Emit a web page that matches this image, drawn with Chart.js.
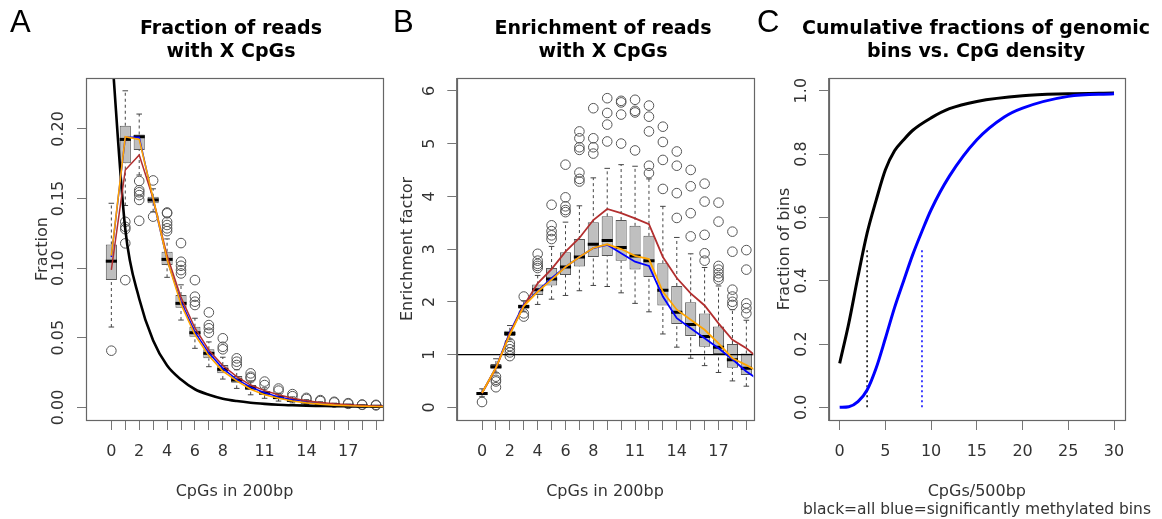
<!DOCTYPE html>
<html><head><meta charset="utf-8">
<script src="https://cdn.jsdelivr.net/npm/chart.js@4.4.1/dist/chart.umd.min.js"></script>
<style>
html,body{margin:0;padding:0;background:#fff}
body{width:1162px;height:519px;position:relative;overflow:hidden}
canvas{position:absolute;top:0}
.ttl{position:absolute;font-family:"DejaVu Sans",sans-serif;font-weight:bold;font-size:19px;line-height:23.4px;text-align:center;white-space:nowrap;transform:translateX(-50%);color:#000}
.lt{position:absolute;font-family:"Liberation Sans",Arial,sans-serif;font-size:31px;line-height:31px;color:#000}
.sub{position:absolute;font-family:"DejaVu Sans",sans-serif;font-size:15.5px;line-height:19.2px;white-space:nowrap;transform:translateX(-50%);color:#333}
</style></head><body>
<canvas id="cA" width="390" height="519" style="left:0"></canvas>
<canvas id="cB" width="380" height="519" style="left:390px"></canvas>
<canvas id="cC" width="392" height="519" style="left:770px"></canvas>
<div class="lt" style="left:10px;top:6px">A</div>
<div class="lt" style="left:393px;top:6px">B</div>
<div class="lt" style="left:757px;top:6px">C</div>
<div class="ttl" style="left:231px;top:16px">Fraction of reads<br>with X CpGs</div>
<div class="ttl" style="left:603px;top:16px">Enrichment of reads<br>with X CpGs</div>
<div class="ttl" style="left:976px;top:16px">Cumulative fractions of genomic<br>bins vs. CpG density</div>
<div class="sub" style="left:977px;top:500px">black=all blue=significantly methylated bins</div>
<script>
// ---------- shared categories ----------
const CATS = [0,1,2,3,4,5,6,7,8,9,10,11,12,13,14,15,16,17,18,19];
const LINE_X = [0,1,2,3,4,5,6,7,8,9,10,11,12,13,14,15,16,17,18,19,20];
const X_SHOWN = [0,2,4,6,8,11,14,17];

// ---------- Panel A: fraction of reads ----------
const A_YTICKS = [0,0.05,0.10,0.15,0.20];
const A_Q1  = [0.0914,0.1753,0.1848,0.1466,0.1022,0.0716,0.0507,0.0352,0.0244,0.0177,0.0125,0.009,0.006,0.0045,0.003,0.0022,0.0016,0.0012,0.0008,0.0006];
const A_MED = [0.105,0.1925,0.1944,0.149,0.1063,0.0747,0.0536,0.0388,0.0273,0.0196,0.0143,0.0103,0.007,0.005,0.0038,0.0027,0.002,0.0015,0.001,0.0008];
const A_Q3  = [0.117,0.2023,0.196,0.1513,0.1118,0.0807,0.0579,0.0417,0.0304,0.0225,0.016,0.0115,0.008,0.006,0.0045,0.0032,0.0024,0.0018,0.0013,0.001];
const A_LO  = [0.0577,0.145,0.1669,0.1405,0.0934,0.0627,0.0424,0.0292,0.0203,0.0136,0.009,0.0065,0.0045,0.0032,0.002,0.0015,0.001,0.0007,0.0005,0.0003];
const A_HI  = [0.1466,0.2274,0.2107,0.157,0.121,0.088,0.064,0.047,0.036,0.027,0.019,0.014,0.010,0.0075,0.0055,0.004,0.003,0.0022,0.0016,0.0013];
const A_OUT = [
 [0.0407],[0.1333,0.1297,0.128,0.1178,0.0914],[0.1626,0.156,0.1545,0.1525,0.149,0.134],[0.163,0.137],
 [0.140,0.1394,0.1333,0.131,0.1286,0.1266],[0.118,0.1046,0.1017,0.0986,0.0962],[0.0914,0.0795,0.0759,0.0735],
 [0.0682,0.0591,0.0568,0.0536],[0.0496,0.0435,0.0417],[0.0352,0.0328,0.0304],[0.0244,0.022,0.021],
 [0.0185,0.016],[0.0135,0.012],[0.0095,0.008],[0.0068,0.006],[0.0052,0.0045],[0.004,0.0035],
 [0.003,0.0025],[0.002,0.0018],[0.0018,0.0014]];
const A_BLUE   = [0.108,0.194,0.194,0.149,0.106,0.076,0.054,0.039,0.028,0.020,0.0145,0.0105,0.0075,0.0055,0.004,0.0028,0.002,0.0014,0.001,0.0007,0.0005];
const A_ORANGE = [0.109,0.1944,0.1925,0.150,0.106,0.074,0.052,0.037,0.026,0.019,0.013,0.009,0.0065,0.0045,0.0032,0.0023,0.0016,0.0011,0.0008,0.0006,0.0004];
const A_RED    = [0.0987,0.1705,0.1813,0.150,0.109,0.079,0.057,0.041,0.030,0.022,0.016,0.012,0.009,0.0065,0.0048,0.0035,0.0025,0.0018,0.0013,0.0009,0.0006];
const A_BLACK  = [0.26,0.128,0.078,0.048,0.030,0.020,0.013,0.009,0.0062,0.0045,0.0033,0.0025,0.0019,0.0015,0.0012,0.001,0.0008,0.0007,0.0006,0.0005,0.0004];

// ---------- Panel B: enrichment ----------
const B_YTICKS = [0,1,2,3,4,5,6];
const B_REF = 1;
const B_Q1  = [0.23,0.73,1.35,1.87,2.13,2.31,2.51,2.67,2.85,2.87,2.78,2.61,2.47,1.93,1.58,1.35,1.15,1.01,0.75,0.61];
const B_MED = [0.26,0.77,1.40,1.91,2.23,2.43,2.66,2.85,3.09,3.16,3.03,2.87,2.78,2.22,1.80,1.57,1.34,1.14,0.90,0.74];
const B_Q3  = [0.29,0.82,1.45,1.95,2.33,2.64,2.94,3.19,3.51,3.62,3.55,3.44,3.25,2.73,2.30,1.99,1.78,1.53,1.20,1.02];
const B_LO  = [0.20,0.65,1.28,1.82,1.95,2.05,2.12,2.21,2.31,2.29,2.17,1.97,1.81,1.39,1.14,0.93,0.79,0.66,0.50,0.40];
const B_HI  = [0.35,0.92,1.55,2.02,2.50,3.05,3.51,3.82,4.35,4.53,4.60,4.57,4.33,3.81,3.22,2.91,2.65,2.30,1.85,1.65];
const B_OUT = [
 [0.10],[0.58,0.52,0.49,0.38],[1.22,1.16,1.10,1.04,0.97],[2.10,1.78,1.72],
 [2.91,2.78,2.72,2.68,2.64],[3.84,3.45,3.34,3.26,3.19],[4.60,3.98,3.81,3.74,3.70],
 [5.23,5.10,4.93,4.88,4.45,4.33,4.28],[5.67,5.10,4.93,4.81],[5.86,5.58,5.36,5.04],
 [5.81,5.78,5.55,5.00],[5.83,5.62,5.59,4.87],[5.72,5.51,5.23,4.58,4.44],[5.32,5.03,4.69,4.14],
 [4.85,4.58,4.06,3.59],[4.50,4.19,3.68,3.24],[4.24,3.90,3.27,2.92,2.78],
 [3.88,3.52,2.68,2.61,2.54,2.47,2.42],[3.33,2.95,2.23,2.10,2.00,1.94],[2.98,2.61,1.97,1.88,1.78]];
const B_RED    = [0.27,0.74,1.40,1.92,2.35,2.62,2.95,3.21,3.55,3.76,3.68,3.58,3.47,2.85,2.45,2.16,1.93,1.59,1.28,1.12,0.90];
const B_ORANGE = [0.27,0.75,1.38,1.92,2.19,2.42,2.66,2.85,3.02,3.09,3.00,2.87,2.81,2.19,1.85,1.66,1.47,1.21,0.93,0.80,0.66];
const B_BLUE   = [0.27,0.75,1.42,1.95,2.20,2.45,2.66,2.85,3.02,3.08,2.92,2.76,2.68,2.10,1.69,1.50,1.31,1.12,0.91,0.68,0.50];

// ---------- Panel C: cumulative fractions ----------
const C_XTICKS = [0,5,10,15,20,25,30];
const C_YTICKS = [0,0.2,0.4,0.6,0.8,1.0];
const C_ALL_X  = [0,1,2,3,4,5,6,7,8,10,12,15,20,25,30];
const C_ALL_Y  = [0.139,0.266,0.413,0.55,0.655,0.75,0.81,0.845,0.875,0.914,0.943,0.966,0.984,0.99,0.993];
const C_SIG_X  = [0,1,2,3,4,5,6,7,8,9,10,12,15,18,20,25,30];
const C_SIG_Y  = [0,0.002,0.018,0.055,0.125,0.218,0.315,0.40,0.483,0.556,0.624,0.73,0.845,0.917,0.945,0.982,0.99];
const C_MEDIAN_ALL = 3, C_MEDIAN_SIG = 9, C_MEDIAN_LEVEL = 0.5;

// ---------- styling / helpers ----------
const FONT = "DejaVu Sans";
const TXT = '#333', AX = '#777';
const BOX_HALF = 0.4;
const RED = '#b22f2f', ORANGE = '#ffa500', BLUE = '#0000ff';

const frame = {id:'frame', afterDraw(chart){
  const a = chart.chartArea, c = chart.ctx;
  c.save(); c.strokeStyle = '#666'; c.lineWidth = 1.2;
  c.strokeRect(Math.round(a.left)+0.5, Math.round(a.top)+0.5, Math.round(a.right-a.left), Math.round(a.bottom-a.top));
  c.restore();
}};

function halfPx(chart, u){ const s = chart.scales.x; return Math.abs(s.getPixelForValue(u) - s.getPixelForValue(0)); }

function boxDatasets(Q1, MED, Q3, LO, HI, OUT){
  const bars = CATS.map((c,i)=>({x:c, y:[Q1[i], Q3[i]]}));
  const wh = [], caps = [], outs = [];
  CATS.forEach((c,i)=>{
    wh.push({x:c,y:LO[i]},{x:c,y:Q1[i]},{x:c,y:null},{x:c,y:Q3[i]},{x:c,y:HI[i]},{x:c,y:null});
    caps.push({x:c,y:LO[i]},{x:c,y:HI[i]});
    OUT[i].forEach(v=>outs.push({x:c,y:v}));
  });
  const meds = CATS.map((c,i)=>({x:c,y:MED[i]}));
  return [
    {type:'bar', data:bars, backgroundColor:'#bfbfbf', borderColor:'#555', borderWidth:1, borderSkipped:false,
     barPercentage:BOX_HALF*2, categoryPercentage:1, grouped:false, order:10},
    {type:'line', data:wh, borderColor:'#444', borderWidth:1, borderDash:[3,3], pointRadius:0, spanGaps:false, fill:false, order:9},
    {type:'scatter', data:caps, pointStyle:'line', pointRadius:ctx=>halfPx(ctx.chart, BOX_HALF/2), pointBorderColor:'#444', pointBorderWidth:1, order:9},
    {type:'scatter', data:meds, pointStyle:'line', pointRadius:ctx=>halfPx(ctx.chart, BOX_HALF), pointBorderColor:'#000', pointBorderWidth:3, order:8},
    {type:'scatter', data:outs, pointStyle:'circle', pointRadius:4.8, pointBorderColor:'#555', pointBackgroundColor:'rgba(0,0,0,0)', pointBorderWidth:1, order:8}
  ];
}
function lineDs(X, Y, color, width, order, extra){
  return Object.assign({type:'line', data:X.map((x,i)=>({x, y:Y[i]})), borderColor:color, borderWidth:width,
    pointRadius:0, fill:false, tension:0, order}, extra||{});
}
function tickFont(){ return {family:FONT, size:16}; }

function xAxis(min, max, ticks, labelFn, title){
  return {type:'linear', min, max, bounds:'data', offset:false,
    afterBuildTicks:s=>{ s.ticks = ticks.map(v=>({value:v})); },
    afterFit:s=>{ s.height = 99; },
    ticks:{autoSkip:false, minRotation:0, maxRotation:0, padding:12.5, color:TXT, font:tickFont(), callback:labelFn},
    grid:{display:true, drawOnChartArea:false, drawTicks:true, tickLength:10, color:AX, offset:false},
    border:{display:true, color:AX},
    title:{display:true, text:title, color:TXT, font:{family:FONT, size:16}, padding:{top:0,bottom:17.7}}
  };
}
function yAxis(min, max, ticks, labelFn, width, tickLen, pad, title, titlePad){
  return {type:'linear', min, max, bounds:'data',
    afterBuildTicks:s=>{ s.ticks = ticks.map(v=>({value:v})); },
    afterFit:s=>{ s.width = width; },
    ticks:{autoSkip:false, minRotation:90, maxRotation:90, crossAlign:'center', padding:pad, color:TXT, font:tickFont(), callback:labelFn},
    grid:{display:true, drawOnChartArea:false, drawTicks:true, tickLength:tickLen, color:AX},
    border:{display:true, color:AX},
    title:{display:true, text:title, color:TXT, font:{family:FONT, size:16}, padding:{top:titlePad, bottom:0}}
  };
}
const baseOpts = (pad)=>({responsive:false, animation:false, events:[], layout:{padding:pad},
  plugins:{legend:{display:false}, tooltip:{enabled:false}, title:{display:false}}});

// ---------- Chart A ----------
new Chart(document.getElementById('cA'), {
  type:'bar',
  data:{datasets:[
    ...boxDatasets(A_Q1, A_MED, A_Q3, A_LO, A_HI, A_OUT),
    lineDs(LINE_X, A_BLACK, '#000', 2.6, 5, {tension:0.4, cubicInterpolationMode:'monotone'}),
    lineDs(LINE_X, A_BLUE, BLUE, 1.5, 3),
    lineDs(LINE_X, A_RED, RED, 1.5, 2),
    lineDs(LINE_X, A_ORANGE, ORANGE, 1.6, 1)
  ]},
  options:Object.assign(baseOpts({left:0, top:78, right:7, bottom:0}), {
    scales:{
      x:xAxis(-1.82, 19.5, CATS, v=>X_SHOWN.includes(v)?String(v):'', 'CpGs in 200bp'),
      y:yAxis(-0.0091, 0.2366, A_YTICKS, v=>v.toFixed(2), 86, 9, 0.7, 'Fraction', 33.1)
    }}),
  plugins:[frame]
});

// ---------- Chart B ----------
new Chart(document.getElementById('cB'), {
  type:'bar',
  data:{datasets:[
    ...boxDatasets(B_Q1, B_MED, B_Q3, B_LO, B_HI, B_OUT),
    lineDs([-1.82, 19.5], [B_REF, B_REF], '#000', 1.2, 4),
    lineDs(LINE_X, B_BLUE, BLUE, 1.8, 3),
    lineDs(LINE_X, B_RED, RED, 1.8, 2),
    lineDs(LINE_X, B_ORANGE, ORANGE, 1.8, 1)
  ]},
  options:Object.assign(baseOpts({left:0, top:78, right:16.7, bottom:0}), {
    scales:{
      x:xAxis(-1.82, 19.5, CATS, v=>X_SHOWN.includes(v)?String(v):'', 'CpGs in 200bp'),
      y:yAxis(-0.241, 6.243, B_YTICKS, v=>String(v), 66.7, 9.4, 12.2, 'Enrichment factor', 8.4)
    }}),
  plugins:[frame]
});

// ---------- Chart C ----------
new Chart(document.getElementById('cC'), {
  type:'line',
  data:{datasets:[
    lineDs(C_ALL_X, C_ALL_Y, '#000', 3, 2, {cubicInterpolationMode:'monotone'}),
    lineDs(C_SIG_X, C_SIG_Y, BLUE, 3, 1, {cubicInterpolationMode:'monotone'}),
    lineDs([C_MEDIAN_ALL, C_MEDIAN_ALL], [0, C_MEDIAN_LEVEL], '#000', 1.5, 3, {borderDash:[2,3]}),
    lineDs([C_MEDIAN_SIG, C_MEDIAN_SIG], [0, C_MEDIAN_LEVEL], BLUE, 1.5, 3, {borderDash:[2,3]})
  ]},
  options:Object.assign(baseOpts({left:0, top:78, right:37, bottom:0}), {
    scales:{
      x:xAxis(-1.2, 31.2, C_XTICKS, v=>String(v), 'CpGs/500bp'),
      y:yAxis(-0.04, 1.04, C_YTICKS, v=>v.toFixed(1), 58.7, 9.7, 4.55, 'Fraction of bins', 5.4)
    }}),
  plugins:[frame]
});
</script>
</body></html>
